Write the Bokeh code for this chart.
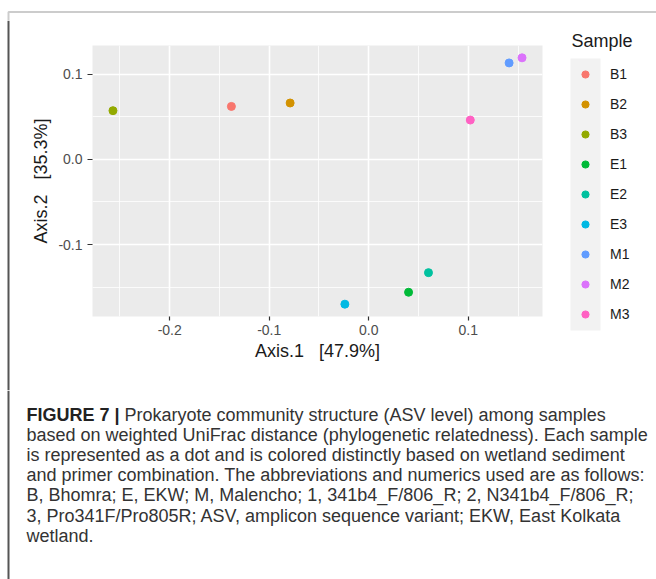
import numpy as np
from bokeh.plotting import figure
from bokeh.layouts import row, column
from bokeh.models import (Range1d, FixedTicker, PrintfTickFormatter, Label, BoxAnnotation,
                          PolyAnnotation, Legend, LegendItem, ColumnDataSource, Span)
from bokeh.embed import file_html
from bokeh.resources import INLINE

# ---------------- data ----------------
samples = ["B1", "B2", "B3", "E1", "E2", "E3", "M1", "M2", "M3"]
axis1 = [-0.138, -0.079, -0.257, 0.040, 0.060, -0.024, 0.141, 0.154, 0.102]
axis2 = [0.062, 0.066, 0.057, -0.156, -0.133, -0.170, 0.113, 0.119, 0.046]
colors = ["#F8766D", "#D39200", "#93AA00", "#00BA38", "#00C19F",
          "#00B9E3", "#619CFF", "#DB72FB", "#FF61C3"]
x_ticks = [-0.2, -0.1, 0.0, 0.1]
x_minor = [-0.25, -0.15, -0.05, 0.05, 0.15]
y_ticks = [-0.1, 0.0, 0.1]
y_minor = [-0.15, -0.05, 0.05]
NB = "\u00a0"
x_title = "Axis.1" + NB * 3 + "[47.9%]"
y_title = "Axis.2" + NB * 3 + "[35.3%]"
legend_title = "Sample"
caption_bold = "FIGURE 7 |"
caption_first = "Prokaryote community structure (ASV level) among samples"
caption_lines = [
    "based on weighted UniFrac distance (phylogenetic relatedness). Each sample",
    "is represented as a dot and is colored distinctly based on wetland sediment",
    "and primer combination. The abbreviations and numerics used are as follows:",
    "B, Bhomra; E, EKW; M, Malencho; 1, 341b4_F/806_R; 2, N341b4_F/806_R;",
    "3, Pro341F/Pro805R; ASV, amplicon sequence variant; EKW, East Kolkata",
    "wetland.",
]

FONT = "Liberation Sans"
BORDER = "#555555"

def expand(vals, f=0.05):
    lo, hi = min(vals), max(vals)
    d = (hi - lo) * f
    return lo - d, hi + d

xr = expand(axis1)
yr = expand(axis2)

def blank(w, h):
    f = figure(width=w, height=h, output_backend="svg", toolbar_location=None,
               x_axis_type=None, y_axis_type=None, x_range=Range1d(0, 1), y_range=Range1d(0, 1),
               min_border=0, outline_line_color=None,
               background_fill_color="white", border_fill_color="white")
    f.grid.visible = False
    return f

# ---------------- page pieces (page px, origin top-left) ----------------
TOP_H = 20           # top border strip
MID_H = 370          # middle block (y 20..390)
LEFT_W = 20
MAIN_W = 528         # x 20..548
LEG_W = 108          # x 548..656
CAP_H = 579 - TOP_H - MID_H
MID_BOTTOM = TOP_H + MID_H  # page y of middle block bottom

# top strip: corner + top border line
top = blank(656, TOP_H)
top.add_layout(PolyAnnotation(xs=[8, 8, 900, 900], ys=[-50, TOP_H - 11.5, TOP_H - 11.5, -50],
                              xs_units="screen", ys_units="screen",
                              fill_alpha=0, line_color=BORDER, line_width=2))

# left strip: left border line
left = blank(LEFT_W, MID_H)
left.add_layout(Span(location=8, location_units="screen", dimension="height",
                     line_color=BORDER, line_width=2))

# main scatter panel (frame at page x 92..542, y 45..316)
p = figure(width=MAIN_W, height=MID_H, output_backend="svg", toolbar_location=None,
           x_range=Range1d(*xr), y_range=Range1d(*yr),
           min_border_left=92 - LEFT_W, min_border_right=LEFT_W + MAIN_W - 542,
           min_border_top=45 - TOP_H, min_border_bottom=MID_BOTTOM - 316,
           background_fill_color="#EBEBEB", border_fill_color="white", outline_line_color=None)

xt = FixedTicker(ticks=x_ticks, minor_ticks=x_minor)
yt = FixedTicker(ticks=y_ticks, minor_ticks=y_minor)
p.xaxis.ticker = xt
p.yaxis.ticker = yt
p.xgrid.ticker = xt
p.ygrid.ticker = yt
p.grid.grid_line_color = "white"
p.grid.grid_line_width = 1.6
p.grid.minor_grid_line_color = "white"
p.grid.minor_grid_line_width = 0.8

for ax in (p.xaxis[0], p.yaxis[0]):
    ax.formatter = PrintfTickFormatter(format="%.1f")
    ax.axis_line_color = None
    ax.major_tick_line_color = "#333333"
    ax.major_tick_line_width = 1.2
    ax.major_tick_out = 4
    ax.major_tick_in = 0
    ax.minor_tick_out = 0
    ax.minor_tick_in = 0
    ax.major_label_text_font = FONT
    ax.major_label_text_font_size = "14px"
    ax.major_label_text_color = "#4D4D4D"
    ax.axis_label_text_font = FONT
    ax.axis_label_text_font_size = "18px"
    ax.axis_label_text_font_style = "normal"
    ax.axis_label_text_color = "#1a1a1a"

p.xaxis.axis_label = x_title
p.yaxis.axis_label = y_title
p.xaxis.major_label_standoff = 4
p.xaxis.axis_label_standoff = 3
p.yaxis.major_label_standoff = 5
p.yaxis.major_tick_out = 5
p.yaxis.axis_label_standoff = 4

src = ColumnDataSource(dict(x=axis1, y=axis2, color=colors, sample=samples))
p.scatter("x", "y", source=src, size=8, fill_color="color", line_color="color")

# legend figure (screen y measured up from page y = MID_BOTTOM)
lg = blank(LEG_W, MID_H)
lg.add_layout(BoxAnnotation(left=22, right=52, top=MID_BOTTOM - 58, bottom=MID_BOTTOM - 330,
                            left_units="screen", right_units="screen",
                            top_units="screen", bottom_units="screen",
                            fill_color="#F2F2F2", fill_alpha=1, line_color=None))
lr = lg.scatter("x", "y", source=src, size=8, fill_color="color", line_color="color", visible=False)
items = [LegendItem(label=s, renderers=[lr], index=i) for i, s in enumerate(samples)]
legend = Legend(items=items, location=(28, MID_BOTTOM - 323), orientation="vertical",
                glyph_width=18, glyph_height=18, label_height=18, spacing=12,
                padding=0, margin=0, label_standoff=16,
                label_text_font=FONT, label_text_font_size="14px", label_text_color="#1a1a1a",
                border_line_color=None, background_fill_alpha=0)
lg.add_layout(legend)
lg.add_layout(Label(x=23, y=MID_BOTTOM - 40.7, x_units="screen", y_units="screen",
                    text=legend_title, text_font=FONT, text_font_size="18px",
                    text_color="#1a1a1a", text_baseline="middle"))

# caption figure
cap = blank(656, CAP_H)
cap.add_layout(Span(location=8, location_units="screen", dimension="height",
                    line_color=BORDER, line_width=2))
line_y = [414, 434.2, 454.4, 474.6, 494.8, 515, 535.2]
def cy(py):
    return 579 - py
cap.add_layout(Label(x=26, y=cy(line_y[0]), x_units="screen", y_units="screen",
                     text=caption_bold, text_font=FONT, text_font_size="18px",
                     text_font_style="bold", text_color="#222222", text_baseline="middle"))
cap.add_layout(Label(x=124, y=cy(line_y[0]), x_units="screen", y_units="screen",
                     text=caption_first, text_font=FONT, text_font_size="18px",
                     text_color="#333333", text_baseline="middle"))
for t, yy in zip(caption_lines, line_y[1:]):
    cap.add_layout(Label(x=26, y=cy(yy), x_units="screen", y_units="screen",
                         text=t, text_font=FONT, text_font_size="18px",
                         text_color="#333333", text_baseline="middle"))

layout = column(top, row(left, column(p, spacing=0), lg, spacing=0), cap, spacing=0)
open("out.html", "w").write(file_html(layout, INLINE))
